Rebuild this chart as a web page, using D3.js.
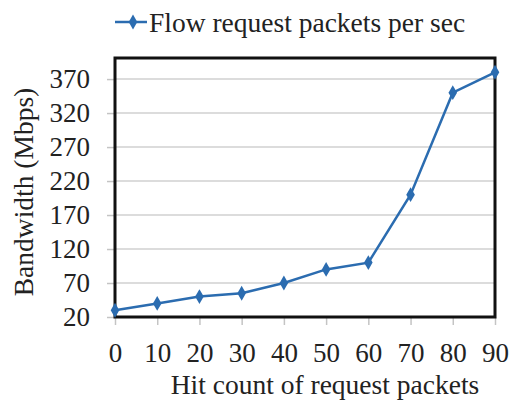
<!DOCTYPE html>
<html><head><meta charset="utf-8">
<script src="https://cdn.jsdelivr.net/npm/d3@7"></script>
</head><body style="margin:0">
<svg id="c" width="510" height="400" font-family="Liberation Serif" style="font-family:'Liberation Serif'"></svg>
<script>
const hitCounts = [0, 10, 20, 30, 40, 50, 60, 70, 80, 90];
const bandwidth = [30, 40, 50, 55, 70, 90, 100, 200, 350, 380];
const yTicks = [20, 70, 120, 170, 220, 270, 320, 370];
const seriesName = "Flow request packets per sec";
const xTitle = "Hit count of request packets";
const yTitle = "Bandwidth (Mbps)";

const svg = d3.select("#c");
const FONT = "Liberation Serif";
const m = {left:115, right:495, top:58, bottom:317};
const color = "#2b6cb0";
const fs = 27;

function serif(sel, size) {
  sel.attr("font-family", FONT).style("font-family", `"${FONT}"`).attr("font-size", size).attr("fill", "#222");
}

const x = d3.scaleLinear().domain([0, 90]).range([m.left, m.right]);
const y = d3.scaleLinear().domain([20, 401]).range([m.bottom, m.top]);

svg.append("g").selectAll("line").data(yTicks.slice(1)).join("line")
  .attr("x1", m.left).attr("x2", m.right)
  .attr("y1", d => y(d)).attr("y2", d => y(d))
  .attr("stroke", "#d0d0d0").attr("stroke-width", 1.5);

const yAxis = d3.axisLeft(y).tickValues(yTicks).tickSize(8).tickPadding(17);
const gy = svg.append("g").attr("transform", `translate(${m.left},0)`).call(yAxis);
gy.attr("font-family", FONT).attr("font-size", fs);
gy.select(".domain").remove();
gy.selectAll(".tick line").attr("stroke", "#c4c4c4").attr("stroke-width", 1.5);
serif(gy.selectAll("text"), fs);

const xAxis = d3.axisBottom(x).tickValues(hitCounts).tickSize(8).tickPadding(18);
const gx = svg.append("g").attr("transform", `translate(0,${m.bottom})`).call(xAxis);
gx.attr("font-family", FONT).attr("font-size", fs);
gx.select(".domain").remove();
gx.selectAll(".tick line").attr("stroke", "#c4c4c4").attr("stroke-width", 1.5);
serif(gx.selectAll("text"), fs);

svg.append("rect").attr("x", m.left).attr("y", m.top)
  .attr("width", m.right - m.left).attr("height", m.bottom - m.top)
  .attr("fill", "none").attr("stroke", "#111").attr("stroke-width", 3);

const data = hitCounts.map((h, i) => ({h, v: bandwidth[i]}));
svg.append("path").datum(data)
  .attr("fill", "none").attr("stroke", color).attr("stroke-width", 2.5)
  .attr("d", d3.line().x(d => x(d.h)).y(d => y(d.v)));
const diamond = d3.symbol().type(d3.symbolDiamond).size(64);
svg.append("g").selectAll("path").data(data).join("path")
  .attr("d", diamond).attr("fill", color)
  .attr("transform", d => `translate(${x(d.h)},${y(d.v)})`);

serif(svg.append("text").attr("x", 325).attr("y", 394)
  .attr("text-anchor", "middle").text(xTitle), 27.5);
serif(svg.append("text").attr("transform", `translate(33,192) rotate(-90)`)
  .attr("text-anchor", "middle").text(yTitle), 27.5);

const lg = svg.append("g");
lg.append("line").attr("x1", 115).attr("x2", 147).attr("y1", 22).attr("y2", 22)
  .attr("stroke", color).attr("stroke-width", 2.5);
lg.append("path").attr("d", diamond).attr("fill", color).attr("transform", "translate(133,22)");
serif(lg.append("text").attr("x", 149).attr("y", 32).text(seriesName), 27.5);
</script>
</body></html>
